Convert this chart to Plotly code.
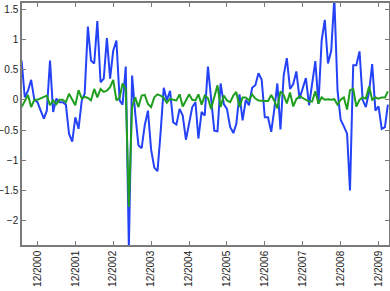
import pandas as pd
import plotly.graph_objects as go

# monthly observations, Jul 2000 .. Mar 2010
start_month = "2000-07-01"

blue_values = [
    0.65, 0.04, 0.15, 0.33, 0.00,                                      # Jul-Nov 2000
    -0.04, -0.18, -0.31, -0.18, 0.65, -0.20, 0.02, -0.04, -0.04, -0.08, -0.56, -0.69,  # Dec00-Nov01
    -0.29, -0.48, -0.01, 0.10, 1.21, 0.65, 0.60, 1.30, 0.29, 0.35, 1.02, 0.35,         # Dec01-Nov02
    0.81, 0.98, -0.01, -0.08, 0.55, -2.45, 0.40, -0.22, -0.75, -0.80, -0.42, -0.18,    # Dec02-Nov03
    -0.82, -1.12, -1.18, -0.56, 0.20, -0.01, 0.15, -0.37, -0.41, -0.15, -0.26, -0.66,  # Dec03-Nov04
    -0.40, -0.12, -0.04, -0.64, -0.20, -0.26, 0.55, 0.04, -0.51, -0.52, 0.27, -0.07,   # Dec04-Nov05
    -0.15, -0.45, -0.55, -0.40, 0.09, -0.34, 0.00, -0.09, 0.20, 0.24, 0.44, 0.33,      # Dec05-Nov06
    -0.29, -0.29, -0.53, -0.18, 0.27, -0.49, 0.40, 0.69, 0.18, 0.26, 0.47, 0.02,       # Dec06-Nov07
    0.18, 0.36, -0.09, 0.26, 0.64, -0.07, 0.98, 1.32, 0.60, 0.81, 1.68, 0.15,          # Dec07-Nov08
    -0.33, -0.44, -0.56, -1.50, 0.57, 0.57, 0.80, 0.00, -0.12, 0.13, 0.59, -0.18,      # Dec08-Nov09
    -0.11, -0.48, -0.45, -0.08,                                        # Dec09-Mar10
]

green_values = [
    -0.12, -0.01, 0.08, -0.12, 0.00,
    0.00, 0.02, 0.04, 0.07, -0.09, -0.01, -0.07, 0.00, 0.00, -0.04, 0.10, 0.00,
    -0.09, 0.16, 0.02, 0.05, 0.03, -0.01, 0.18, 0.04, 0.18, 0.13, 0.15, 0.21,
    0.33, -0.01, 0.04, 0.27, 0.18, -1.77, -0.12, 0.04, -0.12, 0.07, 0.08, -0.07,
    -0.12, 0.04, 0.09, 0.07, 0.03, -0.05, 0.02, 0.00, -0.01, 0.09, -0.11, -0.01,
    0.09, 0.00, -0.01, 0.09, -0.08, 0.07, 0.03, -0.15, 0.04, 0.24, -0.12, 0.07,
    -0.01, -0.04, 0.07, 0.13, -0.12, 0.04, 0.04, -0.01, 0.09, 0.02, -0.01, -0.02,
    -0.02, -0.02, 0.08, -0.01, -0.14, 0.14, 0.08, -0.06, 0.12, -0.11, 0.01, 0.06,
    0.03, 0.00, -0.03, -0.03, 0.14, -0.06, 0.04, 0.00, 0.01, 0.00, 0.01, -0.08,
    0.00, 0.04, -0.16, 0.16, 0.18, -0.11, 0.00, 0.04, 0.02, 0.22, 0.00, 0.04,
    0.02, 0.04, 0.04, 0.14,
]

tick_dates = [f"{y}-12-01" for y in range(2000, 2010)]
tick_labels = [f"12/{y}" for y in range(2000, 2010)]
y_ticks = [-2, -1.5, -1, -0.5, 0, 0.5, 1, 1.5]

dates = pd.date_range(start_month, periods=len(blue_values), freq="MS")

fig = go.Figure()
fig.add_trace(go.Scatter(x=dates, y=blue_values, mode="lines",
                         line=dict(color="#2442f6", width=2), showlegend=False))
fig.add_trace(go.Scatter(x=dates, y=green_values, mode="lines",
                         line=dict(color="#1f9e1f", width=2), showlegend=False))

axis_common = dict(showline=True, linecolor="#7a7a7a", linewidth=1.5, mirror="ticks",
                   ticks="inside", ticklen=4, tickcolor="#7a7a7a", tickwidth=1,
                   showgrid=False, zeroline=False, automargin=False,
                   tickfont=dict(family="Liberation Sans, Arial", size=10, color="#222"))

fig.update_xaxes(type="date", range=["2000-07-05", "2010-03-12"],
                 tickvals=tick_dates, ticktext=tick_labels, tickangle=-90,
                 **axis_common)
fig.update_yaxes(range=[-2.4, 1.6], tickvals=y_ticks,
                 ticktext=[("\u2212" if v < 0 else "") + (f"{abs(v):g}") for v in y_ticks],
                 **axis_common)

fig.update_layout(width=390, height=291, margin=dict(l=22, r=1, t=3, b=46),
                  paper_bgcolor="white", plot_bgcolor="white")

fig.write_html("out.html", config={"displayModeBar": False},
               post_script="document.body.style.margin='0';document.body.style.overflow='hidden';")
